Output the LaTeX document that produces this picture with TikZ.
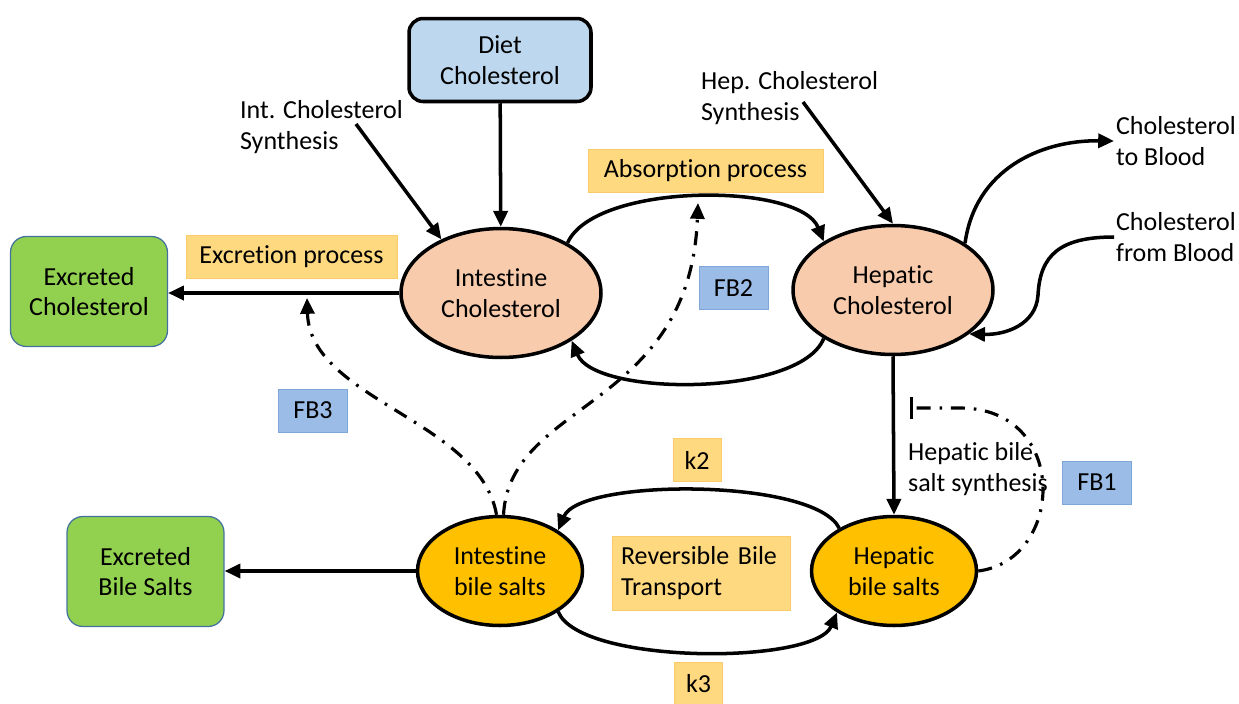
\documentclass[tikz,border=0pt]{standalone}
\usepackage{fontspec}
\setmainfont{Carlito}[Ligatures={NoCommon}]
\usetikzlibrary{arrows.meta,shapes.geometric}
\definecolor{dietblue}{HTML}{BDD7EE}
\definecolor{cholpink}{HTML}{F8CBAD}
\definecolor{bilegold}{HTML}{FFC000}
\definecolor{sinkgreen}{HTML}{92D050}
\definecolor{sinkedge}{HTML}{41719C}
\definecolor{procfill}{HTML}{FFD980}
\definecolor{procedge}{HTML}{F9CB6A}
\definecolor{fbfill}{HTML}{9BBCE6}
\definecolor{fbedge}{HTML}{7EA6D8}
\tikzset{
  pool/.style={draw, ellipse, line width=2pt, align=center, inner sep=0pt},
  chol/.style={pool, fill=cholpink, minimum width=4.0cm, minimum height=2.58cm},
  bile/.style={pool, fill=bilegold, minimum width=3.3cm, minimum height=2.18cm},
  src/.style={draw, line width=2pt, fill=dietblue, rounded corners=8pt, align=center, minimum width=3.64cm, minimum height=1.66cm},
  sink/.style={draw=sinkedge, line width=0.7pt, fill=sinkgreen, rounded corners=9pt, align=center, minimum width=3.14cm, minimum height=2.2cm},
  proc/.style={draw=procedge, line width=0.5pt, fill=procfill, minimum height=0.86cm, inner sep=4pt},
  fb/.style={draw=fbedge, line width=0.5pt, fill=fbfill, minimum width=1.38cm, minimum height=0.86cm},
  lbl/.style={align=left, anchor=west, inner sep=1pt},
  flow/.style={-{Triangle[length=9pt,width=8pt]}, line width=2pt},
  fbk/.style={line width=1.8pt, dash pattern=on 8pt off 5pt on 1.5pt off 5pt}
}

\begin{document}
\begin{tikzpicture}[x=0.02cm, y=-0.02cm, every node/.append style={font=\fontsize{14.8}{17.5}\selectfont}]
\useasboundingbox (0,0) rectangle (1239,703);
\node[src] (diet) at (500,60) {Diet\\Cholesterol};
\node[chol] (intc) at (501,293) {Intestine\\Cholesterol};
\node[chol] (hepc) at (893,290) {Hepatic\\Cholesterol};
\node[bile] (intb) at (500,571) {Intestine\\bile salts};
\node[bile] (hepb) at (894,571) {Hepatic\\bile salts};
\node[sink] (exc) at (89,291.5) {Excreted\\Cholesterol};
\node[sink] (exb) at (145.5,571.5) {Excreted\\Bile Salts};
\node[proc, minimum width=4.22cm] (excp) at (291.5,256.5) {Excretion process};
\node[proc, minimum width=4.7cm] (absp) at (705.5,170.5) {Absorption process};
\node[proc, minimum width=0.96cm] (k2) at (697,460) {k2};
\node[proc, minimum width=0.96cm] (k3) at (698.5,683.5) {k3};
\node[proc, align=left, text width=3.2cm, inner sep=0.18cm, minimum height=1.48cm] (rbt) at (701,573) {Reversible Bile\\Transport};
\node[fb] (fb1) at (1097,482.5) {FB1};
\node[fb] (fb2) at (733.5,288) {FB2};
\node[fb] (fb3) at (313,410.5) {FB3};
\node[lbl] (tisyn) at (238,127) {Int. Cholesterol\\Synthesis};
\node[lbl] (thsyn) at (699,98) {Hep. Cholesterol\\Synthesis};
\node[lbl] (tob) at (1114,141) {Cholesterol\\to Blood};
\node[lbl] (fromb) at (1114,237) {Cholesterol\\from Blood};
\node[lbl] (hbss) at (906,469) {Hepatic bile\\salt synthesis};
\coordinate (isyn) at (356,124);
\coordinate (hsyn) at (803,102);
\coordinate (fb1end) at (910,408);
\coordinate (fb2end) at (698,203);
\coordinate (fb3end) at (307,298);

\draw[flow] (diet) -- (intc);
\draw[flow] (isyn) -- (intc.138);
\draw[flow] (hsyn) -- (hepc.north);
\draw[flow] (intc.37) .. controls (595,182) and (800,182) .. (hepc.145);
\draw[flow] (hepc.215) .. controls (800,397) and (595,397) .. (intc.326);
\draw[flow] (hepc.33) .. controls (975,170) and (1040,140) .. (tob.west);
\draw[flow] (fromb.west) .. controls (1060,237) and (1040,255) .. (1038,295) .. controls (1036,325) and (1005,335) .. (hepc.-30);
\draw[flow] (intc.west) -- (intc.west -| exc.east);
\draw[flow] (hepc.south) -- (hepb.north);
\draw[flow] (hepb.142) .. controls (815,478) and (580,478) .. (intb.35);
\draw[flow] (intb.-35) .. controls (580,665) and (815,665) .. (hepb.216);
\draw[flow] (intb.west) -- (intb.west -| exb.east);
\draw[fbk, -{Triangle[length=9pt,width=8pt]}] ([xshift=-0.07cm]intb.north) .. controls (480,420) and (310,400) .. (fb3end);
\draw[fbk, -{Triangle[length=9pt,width=8pt]}] ([xshift=0.07cm]intb.north) .. controls (510,400) and (690,410) .. (fb2end);
\draw[fbk, -{Bar[width=13pt]}] (hepb.east) .. controls (1065,560) and (1070,408) .. (960,408) -- (fb1end);
\end{tikzpicture}
\end{document}
